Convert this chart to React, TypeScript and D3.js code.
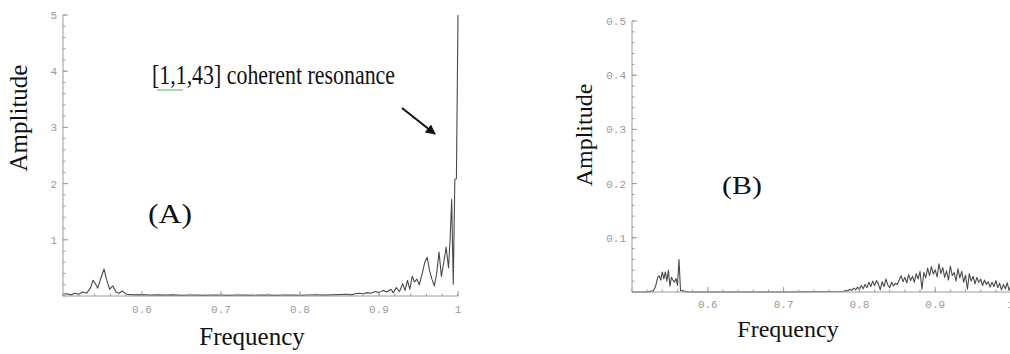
import React from "react";
import * as d3 from "d3";

// ---- Data ----
const leftXTicks = [0.6, 0.7, 0.8, 0.9, 1];
const leftYTicks = [1, 2, 3, 4, 5];
const rightXTicks = [0.6, 0.7, 0.8, 0.9, 1];
const rightYTicks = [0.1, 0.2, 0.3, 0.4, 0.5];

// Panel A spectrum: [frequency, amplitude]
const spectrumA: [number, number][] = [
  [0.5, 0.03], [0.505, 0.04], [0.51, 0.02], [0.515, 0.05], [0.52, 0.03], [0.525, 0.07],
  [0.53, 0.05], [0.535, 0.15], [0.538, 0.28], [0.541, 0.22], [0.544, 0.14], [0.548, 0.32],
  [0.552, 0.48], [0.555, 0.3], [0.559, 0.12], [0.563, 0.18], [0.567, 0.07], [0.571, 0.05],
  [0.575, 0.09], [0.58, 0.03], [0.59, 0.02], [0.6, 0.025], [0.61, 0.015], [0.62, 0.02],
  [0.63, 0.015], [0.64, 0.02], [0.65, 0.012], [0.66, 0.018], [0.67, 0.015], [0.68, 0.012],
  [0.69, 0.018], [0.7, 0.015], [0.71, 0.012], [0.72, 0.018], [0.73, 0.015], [0.74, 0.012],
  [0.75, 0.018], [0.76, 0.015], [0.77, 0.012], [0.78, 0.018], [0.79, 0.015], [0.8, 0.012],
  [0.81, 0.018], [0.82, 0.02], [0.83, 0.015], [0.84, 0.02], [0.85, 0.025], [0.86, 0.03],
  [0.865, 0.02], [0.87, 0.04], [0.875, 0.05], [0.88, 0.04], [0.885, 0.06], [0.89, 0.05],
  [0.895, 0.08], [0.9, 0.06], [0.905, 0.1], [0.91, 0.07], [0.915, 0.12], [0.918, 0.06],
  [0.922, 0.15], [0.926, 0.08], [0.93, 0.22], [0.933, 0.1], [0.936, 0.28], [0.939, 0.12],
  [0.942, 0.35], [0.945, 0.25], [0.948, 0.3], [0.951, 0.2], [0.955, 0.42], [0.958, 0.6],
  [0.961, 0.69], [0.964, 0.45], [0.967, 0.3], [0.97, 0.18], [0.973, 0.4], [0.976, 0.78],
  [0.979, 0.35], [0.982, 0.6], [0.985, 0.87], [0.988, 0.5], [0.99, 1.0], [0.992, 1.72],
  [0.994, 0.21], [0.996, 2.07], [0.998, 2.09], [1.0, 5.0],
];

// Panel B spectrum: [frequency, amplitude]
const spectrumB: [number, number][] = [
  [0.5, 0], [0.52, 0], [0.528, 0.002], [0.531, 0.01], [0.534, 0.027], [0.536, 0.03],
  [0.538, 0.022], [0.54, 0.037], [0.542, 0.024], [0.544, 0.037], [0.546, 0.02], [0.548, 0.04],
  [0.55, 0.011], [0.552, 0.027], [0.554, 0.022], [0.556, 0.018], [0.558, 0.025], [0.56, 0.012],
  [0.562, 0.06], [0.564, 0.003], [0.568, 0.002], [0.575, 0], [0.6, 0], [0.7, 0], [0.78, 0.001],
  [0.7825, 0.003], [0.785, 0.002], [0.7875, 0.005], [0.79, 0.003], [0.7925, 0.007], [0.795, 0.004],
  [0.7975, 0.009], [0.8, 0.005], [0.8025, 0.012], [0.805, 0.006], [0.8075, 0.014], [0.81, 0.008],
  [0.8125, 0.018], [0.815, 0.01], [0.8175, 0.02], [0.82, 0.012], [0.8225, 0.021], [0.825, 0.015],
  [0.8275, 0.004], [0.83, 0.019], [0.8325, 0.01], [0.835, 0.024], [0.8375, 0.013], [0.84, 0.008],
  [0.8425, 0.018], [0.845, 0.011], [0.8475, 0.016], [0.85, 0.014], [0.8525, 0.022], [0.855, 0.03],
  [0.8575, 0.019], [0.86, 0.027], [0.8625, 0.017], [0.865, 0.032], [0.8675, 0.021], [0.87, 0.029],
  [0.8725, 0.018], [0.875, 0.034], [0.8775, 0.024], [0.88, 0.038], [0.8825, 0.005], [0.885, 0.036],
  [0.8875, 0.026], [0.89, 0.044], [0.8925, 0.03], [0.895, 0.047], [0.8975, 0.033], [0.9, 0.041],
  [0.9025, 0.028], [0.905, 0.052], [0.9075, 0.034], [0.91, 0.045], [0.9125, 0.027], [0.915, 0.039],
  [0.9175, 0.022], [0.92, 0.048], [0.9225, 0.03], [0.925, 0.036], [0.9275, 0.02], [0.93, 0.043],
  [0.9325, 0.026], [0.935, 0.038], [0.9375, 0.018], [0.94, 0.031], [0.9425, 0.005], [0.945, 0.034],
  [0.9475, 0.02], [0.95, 0.029], [0.9525, 0.015], [0.955, 0.027], [0.9575, 0.018], [0.96, 0.024],
  [0.9625, 0.012], [0.965, 0.022], [0.9675, 0.014], [0.97, 0.019], [0.9725, 0.009], [0.975, 0.018],
  [0.9775, 0.01], [0.98, 0.021], [0.9825, 0.008], [0.985, 0.016], [0.9875, 0.004], [0.99, 0.014],
  [0.9925, 0.006], [0.995, 0.017], [0.9975, 0.003], [1.0, 0.012],
];

const AXIS = "#9a9a9a";
const LINE = "#4a4a4a";
const SERIF = "'Liberation Serif', 'Times New Roman', serif";
const MONO = "'Liberation Mono', 'DejaVu Sans Mono', monospace";

type PanelProps = {
  data: [number, number][];
  xDomain: [number, number];
  xRange: [number, number];
  yDomain: [number, number];
  yRange: [number, number];
  xTicks: number[];
  yTicks: number[];
  xFmt: (v: number) => string;
  yFmt: (v: number) => string;
  xLabelDy: number;
};

function Panel(p: PanelProps) {
  const x = d3.scaleLinear().domain(p.xDomain).range(p.xRange);
  const y = d3.scaleLinear().domain(p.yDomain).range(p.yRange);
  const line = d3
    .line<[number, number]>()
    .x((d) => x(d[0]))
    .y((d) => y(d[1]));
  const x0 = p.xRange[0];
  const y0 = p.yRange[0];
  const xMinor = x.ticks(25);
  const yMinor = y.ticks(25);
  return (
    <g>
      <path d={line(p.data) || ""} fill="none" stroke={LINE} strokeWidth={1.1} strokeLinejoin="round" />
      <line x1={x0} x2={p.xRange[1]} y1={y0} y2={y0} stroke={AXIS} strokeWidth={1} />
      <line x1={x0} x2={x0} y1={y0} y2={p.yRange[1]} stroke={AXIS} strokeWidth={1} />
      {xMinor.map((t, i) => (
        <line key={"xm" + i} x1={x(t)} x2={x(t)} y1={y0} y2={y0 - 2.5} stroke={AXIS} strokeWidth={1} />
      ))}
      {yMinor.map((t, i) => (
        <line key={"ym" + i} x1={x0} x2={x0 + 2.5} y1={y(t)} y2={y(t)} stroke={AXIS} strokeWidth={1} />
      ))}
      {p.xTicks.map((t, i) => (
        <g key={"xt" + i}>
          <line x1={x(t)} x2={x(t)} y1={y0} y2={y0 - 5} stroke={AXIS} strokeWidth={1} />
          <text x={x(t)} y={y0 + p.xLabelDy} textAnchor="middle" fontFamily={MONO} fontSize={11} fill="#999">
            {p.xFmt(t)}
          </text>
        </g>
      ))}
      {p.yTicks.map((t, i) => (
        <g key={"yt" + i}>
          <line x1={x0} x2={x0 + 5} y1={y(t)} y2={y(t)} stroke={AXIS} strokeWidth={1} />
          <text x={x0 - 6} y={y(t) + 4} textAnchor="end" fontFamily={MONO} fontSize={11} fill="#999">
            {p.yFmt(t)}
          </text>
        </g>
      ))}
    </g>
  );
}

export default function App() {
  const fmtX = (v: number) => (v === 1 ? "1" : d3.format(".1f")(v));
  return (
    <svg
      width={1010}
      height={354}
      style={{ position: "absolute", left: 0, top: 0, background: "#fff" }}
    >
      <defs>
        <marker id="ah" viewBox="0 0 10 10" refX={9} refY={5} markerWidth={5} markerHeight={5} orient="auto">
          <path d="M0,0 L10,5 L0,10 z" fill="#111" />
        </marker>
      </defs>
      <rect width={1010} height={354} fill="#fff" />
      {/* Panel A */}
      <Panel
        data={spectrumA}
        xDomain={[0.5, 1]}
        xRange={[63, 458]}
        yDomain={[0, 5]}
        yRange={[296, 15]}
        xTicks={leftXTicks}
        yTicks={leftYTicks}
        xFmt={fmtX}
        yFmt={(v) => String(v)}
        xLabelDy={17}
      />
      <text
        transform="translate(27,118) rotate(-90)"
        textAnchor="middle"
        fontFamily={SERIF}
        fontSize={25}
        fill="#111"
      >
        Amplitude
      </text>
      <text x={252} y={345} textAnchor="middle" fontFamily={SERIF} fontSize={25} fill="#111">
        Frequency
      </text>
      <text x={148} y={223} fontFamily={SERIF} fontSize={27} fill="#111" textLength={44} lengthAdjust="spacingAndGlyphs">
        (A)
      </text>
      <text x={152} y={84} fontFamily={SERIF} fontSize={27} fill="#111" textLength={243} lengthAdjust="spacingAndGlyphs">
        [1,1,43] coherent resonance
      </text>
      <line x1={157} x2={183} y1={90} y2={90} stroke="#6fbf6f" strokeWidth={1.2} />
      <line x1={402} y1={108} x2={435} y2={134} stroke="#111" strokeWidth={2} markerEnd="url(#ah)" />

      {/* Panel B */}
      <Panel
        data={spectrumB}
        xDomain={[0.5, 1]}
        xRange={[632, 1011]}
        yDomain={[0, 0.5]}
        yRange={[292, 21]}
        xTicks={rightXTicks}
        yTicks={rightYTicks}
        xFmt={fmtX}
        yFmt={(v) => d3.format(".1f")(v)}
        xLabelDy={16}
      />
      <text
        transform="translate(592,135) rotate(-90)"
        textAnchor="middle"
        fontFamily={SERIF}
        fontSize={24}
        fill="#111"
      >
        Amplitude
      </text>
      <text x={788} y={337} textAnchor="middle" fontFamily={SERIF} fontSize={24} fill="#111">
        Frequency
      </text>
      <text x={722} y={194} fontFamily={SERIF} fontSize={26} fill="#111" textLength={40} lengthAdjust="spacingAndGlyphs">
        (B)
      </text>
    </svg>
  );
}
